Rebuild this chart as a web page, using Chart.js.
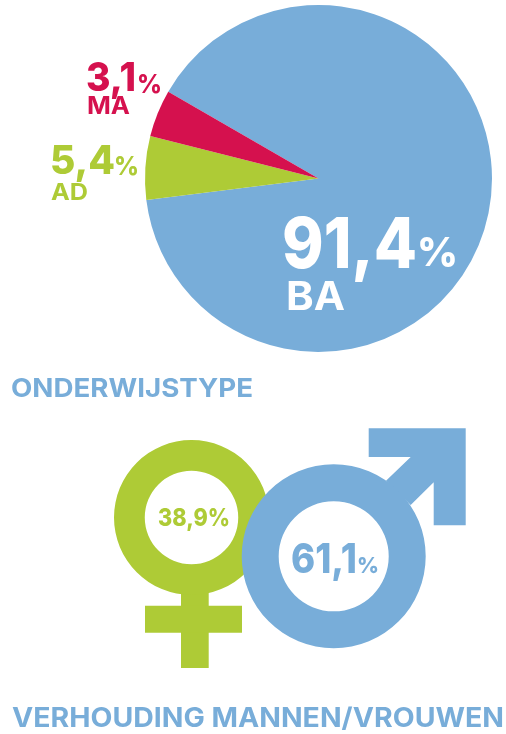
<!DOCTYPE html>
<html>
<head>
<meta charset="utf-8">
<title>Onderwijstype en verhouding mannen/vrouwen</title>
<script src="https://cdn.jsdelivr.net/npm/chart.js@4"></script>
<style>
    html, body { margin: 0; padding: 0; background: #fff; overflow: hidden; }
    #page { position: relative; width: 506px; height: 734px; }
    canvas { position: absolute; left: 0; top: 0; }
    .txt { position: absolute; white-space: nowrap; line-height: 1; font-family: Inter, "Open Sans", sans-serif; transform-origin: left center; }
</style>
</head>
<body>
<div id="page">
    <canvas id="type-chart" width="506" height="734"></canvas>
    <canvas id="women-chart" width="506" height="734"></canvas>
    <canvas id="men-chart" width="506" height="734"></canvas>
</div>
<script>
const typeLabels = ['BA', 'AD', 'MA']
const typeShares = [89.7, 5.9, 4.4]
const typePrinted = ['91,4', '5,4', '3,1']

const genderLabels = ['Vrouwen', 'Mannen']
const genderValues = [38.9, 61.1]
const genderPrinted = ['38,9', '61,1']

const titles = ['ONDERWIJSTYPE', 'VERHOUDING MANNEN/VROUWEN']

const BLUE = '#78add9'
const GREEN = '#aecb36'
const RED = '#d5114e'

// Pads the full page canvas so the round chart lands on the given box
const padFor = (left, top, size) => ({ left: left, top: top, right: 506 - left - size, bottom: 734 - top - size })

const roundChart = (id, type, labels, data, colors, padding, extra) => new Chart(document.getElementById(id), {
    type: type,
    data: { labels: labels, datasets: [{ data: data, backgroundColor: colors, borderWidth: 0 }] },
    options: Object.assign({
        responsive: false,
        animation: false,
        layout: { padding: padding },
        plugins: { legend: { display: false }, tooltip: { enabled: false } }
    }, extra.options),
    plugins: extra.plugins || []
})

const shapePlugin = (color, polygons) => ({
    id: 'shape',
    beforeDatasetsDraw(chart) {
        const ctx = chart.ctx
        ctx.save()
        ctx.fillStyle = color
        polygons.forEach((poly) => {
            ctx.beginPath()
            poly.forEach((p, i) => i ? ctx.lineTo(p[0], p[1]) : ctx.moveTo(p[0], p[1]))
            ctx.closePath()
            ctx.fill()
        })
        ctx.restore()
    }
})

roundChart('type-chart', 'pie', typeLabels, typeShares, [BLUE, GREEN, RED], padFor(145, 5, 347), {
    options: { rotation: 300 }
})

// Stem and cross of the female sign
roundChart('women-chart', 'doughnut', [genderLabels[0]], [genderValues[0]], [GREEN], padFor(114, 440, 155), {
    options: { cutout: '60.3%' },
    plugins: [shapePlugin(GREEN, [
        [[181, 590], [208.7, 590], [208.7, 668], [181, 668]],
        [[145, 605.7], [242, 605.7], [242, 632.7], [145, 632.7]]
    ])]
})

// Arrow of the male sign
roundChart('men-chart', 'doughnut', [genderLabels[1]], [genderValues[1]], [BLUE], padFor(241.7, 464.3, 184), {
    options: { cutout: '59.8%' },
    plugins: [shapePlugin(BLUE, [
        [[368.7, 428.3], [465.7, 428.3], [465.7, 525.3], [433.7, 525.3], [433.7, 482.3], [410.7, 505],
         [386, 480.7], [410.7, 457], [368.7, 457]]
    ])]
})

// left, right = width to fit, base = baseline y
const textItems = [
    { text: typePrinted[0], left: 282, right: 417, base: 268, size: 70, weight: 800, color: '#fff' },
    { text: '%', left: 417, right: 458, base: 267, size: 40, weight: 800, color: '#fff' },
    { text: typeLabels[0], left: 286, right: 345, base: 310, size: 39, weight: 700, color: '#fff' },
    { text: typePrinted[2], left: 86, right: 136, base: 92, size: 40, weight: 800, color: RED },
    { text: '%', left: 137, right: 162, base: 93, size: 26, weight: 800, color: RED },
    { text: typeLabels[2], left: 87, right: 130, base: 115, size: 24, weight: 700, color: RED },
    { text: typePrinted[1], left: 50, right: 115, base: 175, size: 40, weight: 800, color: GREEN },
    { text: '%', left: 114, right: 139, base: 175, size: 26, weight: 800, color: GREEN },
    { text: typeLabels[1], left: 51, right: 88, base: 201, size: 23, weight: 700, color: GREEN },
    { text: genderPrinted[0] + '%', left: 158, right: 230, base: 527, size: 24, weight: 800, color: GREEN },
    { text: genderPrinted[1], left: 291, right: 357, base: 573, size: 41, weight: 800, color: BLUE },
    { text: '%', left: 357, right: 379, base: 573, size: 22, weight: 800, color: BLUE },
    { text: titles[0], left: 11, right: 253, base: 397, size: 26, weight: 700, color: BLUE },
    { text: titles[1], left: 12, right: 504, base: 727, size: 27, weight: 700, color: BLUE }
]

const page = document.getElementById('page')
textItems.forEach((item) => {
    const el = document.createElement('div')
    el.className = 'txt'
    el.textContent = item.text
    el.style.left = item.left + 'px'
    el.style.top = (item.base - 0.864 * item.size) + 'px'
    el.style.fontSize = item.size + 'px'
    el.style.fontWeight = item.weight
    el.style.color = item.color
    page.appendChild(el)
    // Widen the glyphs so the text fills the width it has in the original
    const scale = (item.right - item.left) / el.getBoundingClientRect().width
    el.style.transform = 'scaleX(' + scale + ')'
})
</script>
</body>
</html>
